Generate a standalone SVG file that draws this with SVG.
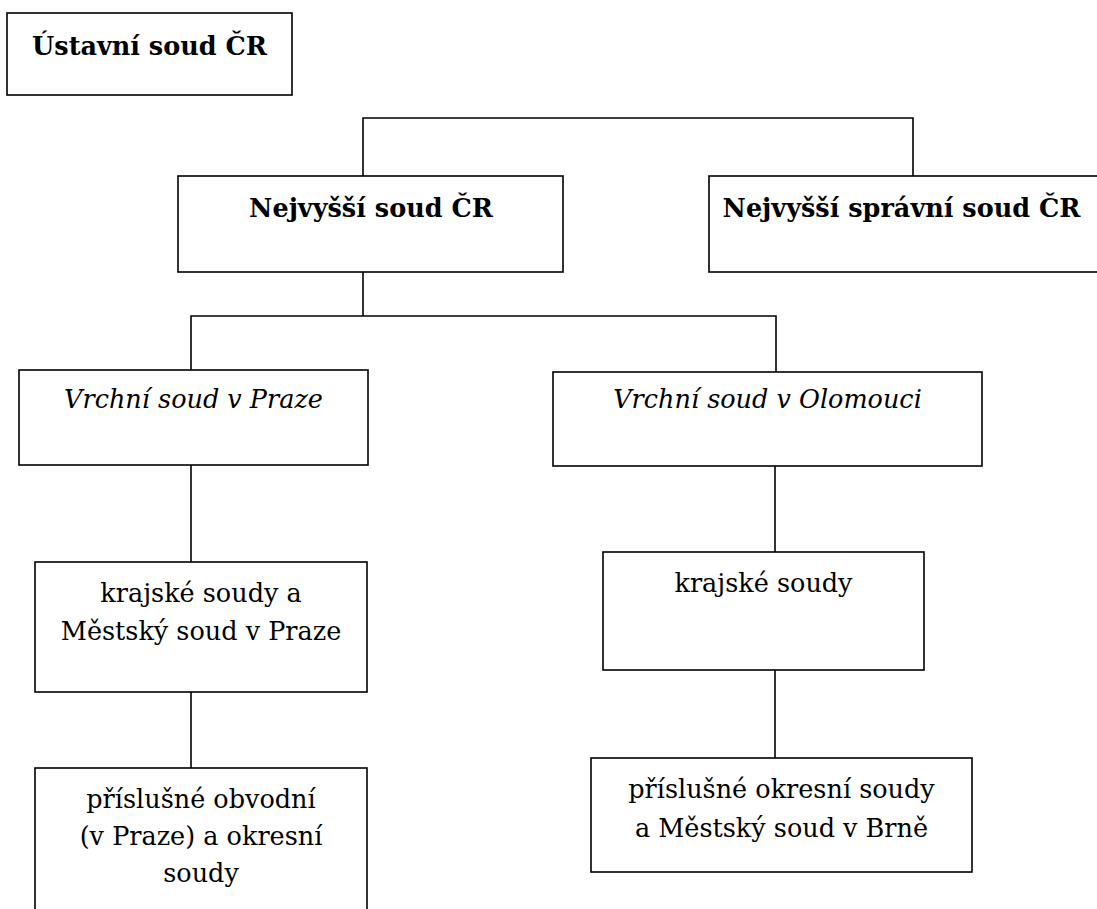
<svg xmlns="http://www.w3.org/2000/svg" width="1097" height="909" viewBox="0 0 1097 909">
<style>
.box{fill:#fff;stroke:#000;stroke-width:1.6}
.ln{fill:none;stroke:#000;stroke-width:1.6}
text{font-family:'DejaVu Serif',serif;font-size:25.5px;fill:#000;text-anchor:middle}
.b{font-weight:bold}
.i{font-style:italic}
</style>
<rect width="1097" height="909" fill="#fff"/>
<g id="connectors">
<path class="ln" d="M363,176 V118 H913 V176"/>
<path class="ln" d="M363,272 V316 M191,370 V316 H776 V372"/>
<path class="ln" d="M191,465 V562"/>
<path class="ln" d="M191,692 V768"/>
<path class="ln" d="M775,466 V552"/>
<path class="ln" d="M775,670 V758"/>
</g>
<g id="ustavni">
<rect class="box" x="7" y="13" width="285" height="82"/>
<text class="b" x="149.5" y="55">Ústavní soud ČR</text>
</g>
<g id="nejvyssi">
<rect class="box" x="178" y="176" width="385" height="96"/>
<text class="b" x="371" y="217">Nejvyšší soud ČR</text>
</g>
<g id="nss">
<rect class="box" x="709" y="176" width="400" height="96"/>
<text class="b" x="901.5" y="217">Nejvyšší správní soud ČR</text>
</g>
<g id="vrchni-praha">
<rect class="box" x="19" y="370" width="349" height="95"/>
<text class="i" x="193.5" y="408">Vrchní soud v Praze</text>
</g>
<g id="vrchni-olomouc">
<rect class="box" x="553" y="372" width="429" height="94"/>
<text class="i" x="767.5" y="408">Vrchní soud v Olomouci</text>
</g>
<g id="krajske-praha">
<rect class="box" x="35" y="562" width="332" height="130"/>
<text x="201" y="602">krajské soudy a</text>
<text x="201" y="640">Městský soud v Praze</text>
</g>
<g id="krajske-olomouc">
<rect class="box" x="603" y="552" width="321" height="118"/>
<text x="763.5" y="592">krajské soudy</text>
</g>
<g id="obvodni">
<rect class="box" x="35" y="768" width="332" height="160"/>
<text x="201" y="808">příslušné obvodní</text>
<text x="201" y="845">(v Praze) a okresní</text>
<text x="201" y="882">soudy</text>
</g>
<g id="okresni-brno">
<rect class="box" x="591" y="758" width="381" height="114"/>
<text x="781.5" y="798">příslušné okresní soudy</text>
<text x="781.5" y="837">a Městský soud v Brně</text>
</g>
</svg>
